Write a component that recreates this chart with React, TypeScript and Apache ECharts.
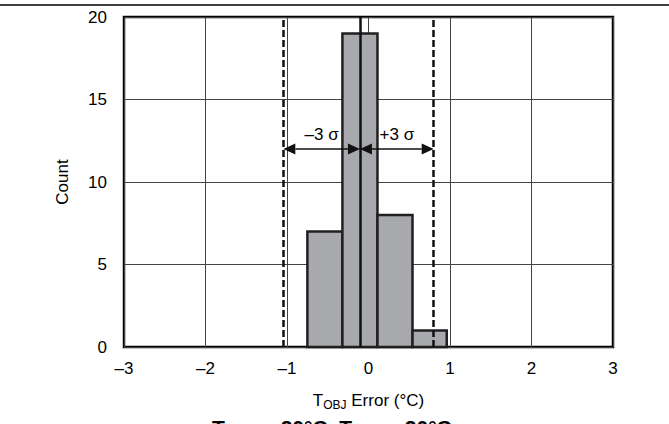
import React, { useEffect, useRef } from "react";
import * as echarts from "echarts";

// Histogram bins: [left edge, right edge]
const binLeft = [-0.75, -0.32, 0.11, 0.54];
const binRight = [-0.32, 0.11, 0.54, 0.96];
const counts = [7, 19, 8, 1];

const meanValue = -0.105;
const minus3Sigma = -1.045;
const plus3Sigma = 0.8;
const arrowY = 12;
const arrowLabels = ["\u20133 σ", "+3 σ"];

const xTicks = [-3, -2, -1, 0, 1, 2, 3];
const yTicks = [0, 5, 10, 15, 20];

const FONT = "'Liberation Sans', Arial, Helvetica, sans-serif";

export default function App() {
  const ref = useRef<HTMLDivElement>(null);

  useEffect(() => {
    document.body.style.margin = "0";
    if (!ref.current) return;
    const chart = echarts.init(ref.current, undefined, { renderer: "svg" });

    const histData = counts.map((c, i) => [binLeft[i], binRight[i], c]);
    const arrowData = [
      [minus3Sigma, meanValue, arrowY, 0],
      [meanValue, plus3Sigma, arrowY, 1],
    ];

    const option: any = {
      animation: false,
      backgroundColor: "#fff",
      textStyle: { fontFamily: FONT },
      grid: {
        left: 124,
        right: 56,
        top: 17,
        bottom: 77,
        show: true,
        borderColor: "#000",
        borderWidth: 2.5,
        backgroundColor: "transparent",
      },
      xAxis: {
        type: "value",
        min: xTicks[0],
        max: xTicks[xTicks.length - 1],
        interval: 1,
        axisLine: { show: false },
        axisTick: { show: false },
        splitLine: { show: true, lineStyle: { color: "#444", width: 1 } },
        axisLabel: {
          color: "#000",
          fontSize: 17,
          fontFamily: FONT,
          margin: 13,
          formatter: (v: number) => String(v).replace("-", "\u2013"),
        },
        name: "{a|T}{s|OBJ}{a| Error (°C)}",
        nameLocation: "middle",
        nameGap: 43,
        nameTextStyle: {
          rich: {
            a: { fontSize: 17, color: "#000", fontFamily: FONT },
            s: { fontSize: 12, color: "#000", fontFamily: FONT, padding: [9, 0, 0, 0] },
          },
        },
      },
      yAxis: {
        type: "value",
        min: yTicks[0],
        max: yTicks[yTicks.length - 1],
        interval: 5,
        axisLine: { show: false },
        axisTick: { show: false },
        splitLine: { show: true, lineStyle: { color: "#444", width: 1 } },
        axisLabel: { color: "#000", fontSize: 17, fontFamily: FONT, margin: 17 },
        name: "Count",
        nameLocation: "middle",
        nameRotate: 90,
        nameGap: 53,
        nameTextStyle: { color: "#000", fontSize: 17, fontFamily: FONT },
      },
      series: [
        {
          type: "custom",
          data: histData,
          encode: { x: [0, 1], y: 2 },
          renderItem: (params: any, api: any) => {
            const p0 = api.coord([api.value(0), api.value(2)]);
            const p1 = api.coord([api.value(1), 0]);
            return {
              type: "rect",
              shape: { x: p0[0], y: p0[1], width: p1[0] - p0[0], height: p1[1] - p0[1] },
              style: { fill: "#a7a9ac", stroke: "#231f20", lineWidth: 2.5 },
            };
          },
          z: 2,
          markLine: {
            silent: true,
            symbol: ["none", "none"],
            label: { show: false },
            data: [
              { xAxis: meanValue, lineStyle: { color: "#111", width: 2.5, type: "solid" } },
              { xAxis: minus3Sigma, lineStyle: { color: "#111", width: 2.5, type: [7, 3] } },
              { xAxis: plus3Sigma, lineStyle: { color: "#111", width: 2.5, type: [7, 3] } },
            ],
          },
        },
        {
          type: "custom",
          data: arrowData,
          encode: { x: [0, 1], y: 2 },
          z: 4,
          renderItem: (params: any, api: any) => {
            const a = api.coord([api.value(0), api.value(2)]);
            const b = api.coord([api.value(1), api.value(2)]);
            const y = a[1];
            const L = 12;
            const H = 5.5;
            const label = arrowLabels[api.value(3)];
            return {
              type: "group",
              children: [
                {
                  type: "line",
                  shape: { x1: a[0] + L, y1: y, x2: b[0] - L, y2: y },
                  style: { stroke: "#111", lineWidth: 1.5 },
                },
                {
                  type: "polygon",
                  shape: { points: [[a[0], y], [a[0] + L, y - H], [a[0] + L, y + H]] },
                  style: { fill: "#111" },
                },
                {
                  type: "polygon",
                  shape: { points: [[b[0], y], [b[0] - L, y - H], [b[0] - L, y + H]] },
                  style: { fill: "#111" },
                },
                {
                  type: "text",
                  x: (a[0] + b[0]) / 2,
                  y: y - 15,
                  style: {
                    text: label,
                    align: "center",
                    verticalAlign: "middle",
                    fill: "#000",
                    fontSize: 17,
                    fontFamily: FONT,
                  },
                },
              ],
            };
          },
        },
      ],
      graphic: [
        {
          type: "line",
          shape: { x1: 0, y1: 5, x2: 669, y2: 5 },
          style: { stroke: "#000", lineWidth: 1.5 },
          silent: true,
        },
        {
          type: "text",
          x: 212,
          y: 416,
          style: {
            text: "{a|T}{s|AMB}{a| = 20°C, T}{s|OBJ}{a| = 20°C}",
            align: "left",
            verticalAlign: "top",
            rich: {
              a: { fontSize: 21, fontWeight: "bold", fill: "#000", fontFamily: FONT },
              s: { fontSize: 14, fontWeight: "bold", fill: "#000", fontFamily: FONT, padding: [9, 0, 0, 0] },
            },
          },
          silent: true,
        },
      ],
    };

    chart.setOption(option);
    return () => chart.dispose();
  }, []);

  return <div ref={ref} style={{ width: 669, height: 424 }} />;
}
